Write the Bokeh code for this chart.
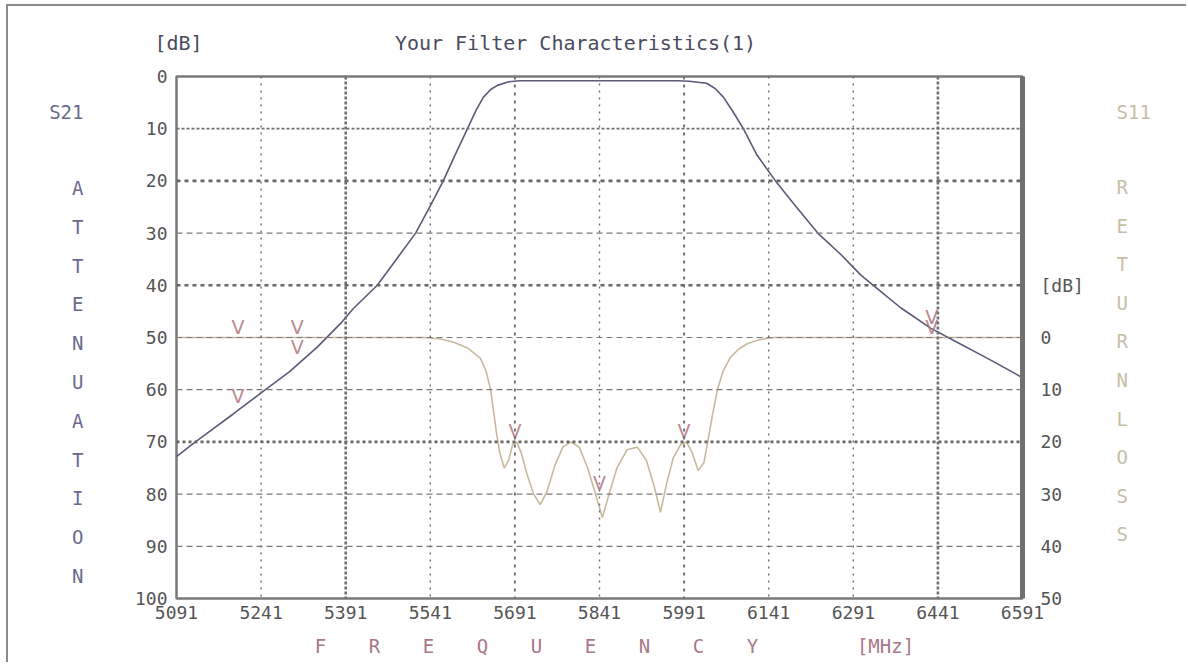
from bokeh.plotting import figure
from bokeh.models import Range1d, LinearAxis, FixedTicker, Span
from bokeh.core.properties import value
from bokeh.embed import file_html
from bokeh.resources import INLINE

# ---------------- data ----------------
x_ticks = [5091, 5241, 5391, 5541, 5691, 5841, 5991, 6141, 6291, 6441, 6591]
att_ticks = [0, 10, 20, 30, 40, 50, 60, 70, 80, 90, 100]
rl_ticks = [0, 10, 20, 30, 40, 50]

s21_freq = [5091, 5121, 5151, 5191, 5241, 5291, 5341, 5382, 5405, 5447, 5481, 5515,
            5541, 5564, 5585, 5607, 5622, 5635, 5648, 5660, 5680, 5700, 5841, 5980,
            6000, 6031, 6046, 6061, 6078, 6096, 6120, 6153, 6190, 6228, 6268, 6304,
            6334, 6375, 6428, 6480, 6529, 6591]
s21_db = [72.8, 70.3, 67.9, 64.7, 60.6, 56.6, 51.8, 47.3, 44.4, 40.0, 35.0, 30.0,
          24.8, 20.0, 15.0, 10.0, 6.5, 4.0, 2.5, 1.7, 1.0, 0.8, 0.8, 0.8,
          0.9, 1.3, 2.3, 4.0, 6.8, 10.0, 15.0, 20.0, 25.0, 30.0, 34.0, 38.0,
          40.7, 44.3, 48.2, 51.2, 54.0, 57.7]

s11_freq = [5091, 5530, 5560, 5585, 5607, 5630, 5640, 5648, 5653, 5658, 5664, 5672,
            5680, 5687, 5694, 5702, 5712, 5724, 5736, 5748, 5762, 5776, 5790, 5805,
            5820, 5834, 5846, 5858, 5872, 5890, 5908, 5924, 5938, 5949, 5960, 5972,
            5985, 5995, 6005, 6016, 6026, 6033, 6041, 6050, 6060, 6073, 6088, 6103,
            6125, 6150, 6591]
s11_db = [0.0, 0.0, 0.3, 1.0, 2.0, 4.0, 6.5, 10.0, 14.0, 18.0, 22.0, 25.0,
          23.5, 20.5, 20.0, 22.0, 26.0, 30.0, 32.0, 29.5, 24.5, 21.0, 20.0, 21.0,
          25.0, 30.0, 34.5, 30.0, 25.0, 21.5, 21.0, 23.5, 28.5, 33.5, 28.0, 23.0,
          20.5, 20.0, 22.0, 25.5, 24.0, 20.0, 15.0, 10.0, 6.5, 3.8, 2.2, 1.2,
          0.4, 0.0, 0.0]

m21_freq = [5691, 5841, 5991, 5200, 5305, 6430]
m21_db = [0.8, 0.8, 0.8, 63.4, 54.0, 48.2]
m11_freq = [5691, 5841, 5991, 5200, 5305, 6430]
m11_db = [20, 30, 20, 0, 0, 0]

title_text = "Your Filter Characteristics(1)"
left_words = ["S21"] + list("ATTENUATION")
right_words = ["S11"] + list("RETURNLOSS")
bottom_words = list("FREQUENCY") + ["[MHz]"]

# ---------------- layout (page pixels) ----------------
OX, OY = 8, 6                      # canvas origin on the page
W, H = 1180, 658
FL, FT, FR, FB = 176, 76, 1022, 598   # plot frame edges on the page
left_word_y = [111] + [round(187 + i * 38.8) for i in range(11)]
right_word_y = [111] + [round(186 + i * 38.6) for i in range(10)]
bottom_word_x = [320 + i * 54 for i in range(9)] + [885]
MONO = "DejaVu Sans Mono"
C21 = "#5a5a7a"
C11 = "#c9b99c"
CMK = "#b47884"

p = figure(width=W, height=H, output_backend="svg", toolbar_location=None,
           x_range=Range1d(5091, 6591), y_range=Range1d(100, 0),
           min_border_left=FL - OX, min_border_top=FT - OY,
           min_border_right=W - (FR - OX), min_border_bottom=H - (FB - OY))
p.styles = {"position": "relative", "left": f"{OX}px", "top": f"{OY}px",
            "box-shadow": "-2px -2px 0px 0px #8a8a8a"}
p.extra_y_ranges = {"s11": Range1d(50, -50), "py": Range1d(FB, FT)}
p.extra_x_ranges = {"px": Range1d(FL, FR)}
p.background_fill_color = "white"
p.border_fill_color = "white"
p.outline_line_color = "#7a7a7a"
p.outline_line_width = 2.5
p.xgrid.visible = False
p.ygrid.visible = False


def style_axis(ax, size="18px", color="#555555", standoff=9):
    ax.major_tick_line_color = None
    ax.minor_tick_line_color = None
    ax.major_tick_out = 0
    ax.major_tick_in = 0
    ax.minor_tick_out = 0
    ax.axis_line_color = None
    ax.major_label_text_font = MONO
    ax.major_label_text_font_size = size
    ax.major_label_text_color = color
    ax.major_label_standoff = standoff


style_axis(p.xaxis[0], standoff=7)
p.xaxis[0].ticker = FixedTicker(ticks=x_ticks)
style_axis(p.yaxis[0], standoff=9)
p.yaxis[0].ticker = FixedTicker(ticks=att_ticks)

# right axis: return loss
rax = LinearAxis(y_range_name="s11", ticker=FixedTicker(ticks=[-10] + rl_ticks),
                 major_label_overrides={-10: "[dB]"})
style_axis(rax, standoff=18)
rax.axis_line_color = "#707070"
rax.axis_line_width = 5
p.add_layout(rax, "right")

# text columns carried by label-only axes
top_ax = LinearAxis(x_range_name="px", ticker=FixedTicker(ticks=[178, 575]),
                    major_label_overrides={178: "[dB]", 575: title_text})
style_axis(top_ax, size="20px", color="#4a4a5e", standoff=22)
p.add_layout(top_ax, "above")

lw_ax = LinearAxis(y_range_name="py", ticker=FixedTicker(ticks=left_word_y),
                   major_label_overrides=dict(zip(left_word_y, left_words)))
style_axis(lw_ax, size="19px", color="#6a6a8e", standoff=48)
p.add_layout(lw_ax, "left")

rw_ax = LinearAxis(y_range_name="py", ticker=FixedTicker(ticks=right_word_y),
                   major_label_overrides=dict(zip(right_word_y, right_words)))
style_axis(rw_ax, size="19px", color="#c6bea6", standoff=30)
p.add_layout(rw_ax, "right")

bw_ax = LinearAxis(x_range_name="px", ticker=FixedTicker(ticks=bottom_word_x),
                   major_label_overrides=dict(zip(bottom_word_x, bottom_words)))
style_axis(bw_ax, size="19px", color="#a87888", standoff=13)
p.add_layout(bw_ax, "below")

# grid lines
heavy_h = {20: ("4 4", 2.6, "#666666"), 40: ("4 4", 2.6, "#666666"),
           70: ("3 3", 2.6, "#666666"), 10: ("3 2", 1.8, "#707070")}
for t in att_ticks[1:-1]:
    dash, w, c = heavy_h.get(t, ("6 4", 1.2, "#7a7a7a"))
    p.add_layout(Span(location=t, dimension="width", line_dash=dash,
                      line_width=w, line_color=c))
heavy_v = {5391: ("3 2", 2.6, "#707070"), 6441: ("3 2", 2.6, "#707070"),
           5691: ("3 5", 1.8, "#6a6a6a"), 5991: ("3 5", 1.8, "#6a6a6a")}
for t in x_ticks[1:-1]:
    dash, w, c = heavy_v.get(t, ("2 5", 1.4, "#6e6e6e"))
    p.add_layout(Span(location=t, dimension="height", line_dash=dash,
                      line_width=w, line_color=c))

# curves
p.line(s11_freq, s11_db, y_range_name="s11", line_color=C11, line_width=1.6)
p.line(s21_freq, s21_db, line_color=C21, line_width=1.6)

# V markers
p.text(x=m21_freq, y=m21_db, text=["V"] * len(m21_freq), text_align="center",
       text_baseline="bottom", text_font=value("DejaVu Sans"), text_font_size="19px",
       text_color=CMK, text_alpha=0.9)
p.text(x=m11_freq, y=m11_db, text=["V"] * len(m11_freq), y_range_name="s11",
       text_align="center", text_baseline="bottom", text_font=value("DejaVu Sans"),
       text_font_size="19px", text_color=CMK, text_alpha=0.9)

open("out.html", "w").write(file_html(p, INLINE))
